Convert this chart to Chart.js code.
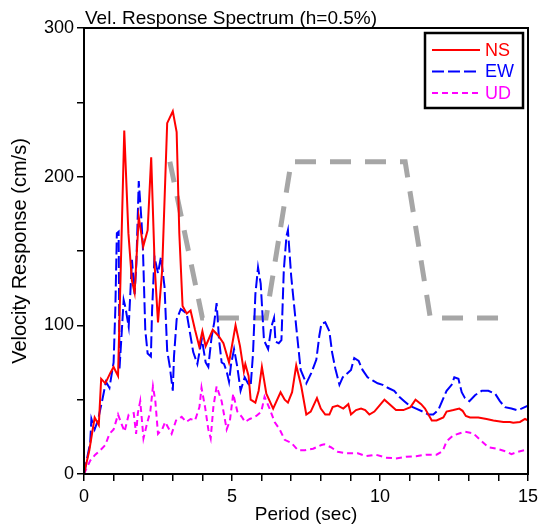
<!DOCTYPE html>
<html>
<head>
<meta charset="utf-8">
<script src="https://cdn.jsdelivr.net/npm/chart.js@4.4.1/dist/chart.umd.min.js"></script>
<style>
  html, body { margin: 0; padding: 0; background: #fff; }
  canvas { display: block; }
</style>
</head>
<body>
<canvas id="chart" width="539" height="526"></canvas>
<script>
// Vel. response spectrum, h=0.5%
const nsPeriod = [0, 0.18, 0.36, 0.5, 0.58, 0.72, 0.89, 1.0, 1.15, 1.36, 1.5, 1.62, 1.71, 1.85, 2.0, 2.15, 2.27, 2.39, 2.5, 2.64, 2.81, 3.0, 3.13, 3.22, 3.33, 3.47, 3.6, 3.75, 3.89, 4.0, 4.11, 4.35, 4.54, 4.71, 4.9, 5.12, 5.27, 5.4, 5.45, 5.56, 5.63, 5.79, 5.9, 6.01, 6.16, 6.39, 6.64, 6.78, 6.89, 7.03, 7.17, 7.34, 7.51, 7.66, 7.87, 8.0, 8.15, 8.29, 8.4, 8.57, 8.76, 8.93, 9.02, 9.19, 9.36, 9.5, 9.64, 9.81, 9.98, 10.15, 10.37, 10.54, 10.79, 11.03, 11.2, 11.39, 11.52, 11.75, 11.91, 12.14, 12.25, 12.48, 12.68, 12.79, 12.9, 13.04, 13.32, 13.6, 13.83, 14.17, 14.39, 14.5, 14.73, 14.9, 15];
const nsVel = [0, 16, 38, 33, 64, 61, 68, 72, 66, 231, 162, 130, 122, 173, 153, 164, 213, 139, 102, 137, 236, 244, 230, 162, 113, 108, 110, 97, 86, 96, 86, 97, 93, 88, 75, 100, 86, 69, 74, 66, 50, 48, 56, 72, 54, 44, 55, 50, 48, 55, 73, 59, 40, 42, 51, 44, 40, 40, 45, 46, 44, 47, 40, 43, 44, 43, 40, 42, 46, 50, 46, 43, 43, 45, 50, 47, 44, 36, 36, 38, 42, 43, 44, 42.5, 39, 38, 38, 37, 36, 35, 35, 34.5, 35, 37, 36];

const ewPeriod = [0, 0.21, 0.25, 0.36, 0.47, 0.61, 0.74, 0.86, 1.0, 1.06, 1.11, 1.17, 1.2, 1.28, 1.34, 1.4, 1.51, 1.62, 1.71, 1.77, 1.85, 1.94, 1.99, 2.07, 2.15, 2.26, 2.3, 2.38, 2.5, 2.6, 2.72, 2.81, 2.9, 3.0, 3.04, 3.13, 3.27, 3.47, 3.69, 3.83, 3.98, 4.11, 4.2, 4.31, 4.4, 4.48, 4.56, 4.65, 4.73, 4.82, 4.9, 4.97, 5.07, 5.18, 5.29, 5.43, 5.54, 5.63, 5.71, 5.79, 5.88, 5.97, 6.08, 6.22, 6.33, 6.42, 6.47, 6.58, 6.67, 6.75, 6.84, 6.89, 7.0, 7.17, 7.32, 7.51, 7.68, 7.85, 7.95, 8.02, 8.15, 8.29, 8.38, 8.49, 8.63, 8.74, 8.91, 9.02, 9.13, 9.28, 9.41, 9.58, 9.75, 9.92, 10.09, 10.26, 10.48, 10.65, 10.82, 10.99, 11.22, 11.44, 11.63, 11.8, 11.97, 12.12, 12.25, 12.42, 12.51, 12.65, 12.76, 12.87, 13.02, 13.21, 13.44, 13.66, 13.89, 14.05, 14.22, 14.44, 14.61, 14.78, 15];
const ewVel = [0, 21, 37, 30, 36, 49, 62, 58, 75, 112, 162, 163, 71, 97, 117, 112, 99, 144, 121, 142, 197, 171, 152, 97, 81, 79, 110, 146, 135, 146, 126, 83, 72, 56, 79, 104, 111, 108, 82, 74, 91, 75, 72, 92, 102, 115, 91, 75, 74, 69, 62, 74, 84, 72, 56, 65, 61, 59, 81, 121, 139, 128, 90, 84, 99, 105, 89, 88, 90, 137, 160, 164, 133, 99, 70, 61, 68, 77, 93, 101, 102, 96, 82, 71, 60, 65, 68, 70, 78, 76, 70, 65, 63, 61, 60, 58, 56, 52, 49, 46, 44, 42, 40, 40, 43, 50, 56, 60, 65, 64, 55, 51, 49, 53, 56, 56, 54, 49, 45, 44, 43, 44, 46];

const udPeriod = [0, 0.21, 0.38, 0.55, 0.72, 0.86, 1.0, 1.15, 1.26, 1.37, 1.51, 1.68, 1.76, 1.82, 1.9, 2.01, 2.13, 2.24, 2.33, 2.41, 2.5, 2.64, 2.74, 2.96, 3.11, 3.3, 3.45, 3.6, 3.75, 3.9, 3.97, 4.09, 4.2, 4.28, 4.37, 4.48, 4.65, 4.82, 4.93, 5.04, 5.18, 5.33, 5.44, 5.6, 5.82, 5.99, 6.1, 6.27, 6.44, 6.61, 6.78, 7.0, 7.23, 7.46, 7.74, 8.02, 8.12, 8.34, 8.57, 8.85, 9.25, 9.53, 9.86, 10.2, 10.54, 10.88, 11.22, 11.55, 11.91, 12.12, 12.25, 12.48, 12.7, 12.87, 13.15, 13.38, 13.66, 13.94, 14.28, 14.44, 14.67, 15];
const udVel = [0, 9, 13, 16, 19.5, 27, 30, 40, 34, 28.5, 40, 41, 27, 41, 49, 24, 34, 42, 59, 49, 27, 30, 35, 27, 36, 38.5, 35, 37, 36, 45, 58, 45, 30, 24, 45, 59, 49, 30, 36, 54, 42, 38.5, 35, 37, 39, 42, 52, 44, 35, 30, 23, 21, 16, 16, 17, 19.5, 20, 18, 15, 14, 14, 12, 13, 11, 10.5, 11.6, 12, 13, 13, 15.5, 22, 26, 27.4, 28.4, 27.4, 23, 18, 17, 15, 13.4, 15, 16.6];

// design spectrum envelope (grey dashed)
const levelPeriod = [2.9, 4.0, 6.15, 7.0, 10.85, 11.7, 14.1];
const levelVel = [210, 105, 105, 210, 210, 105, 105];

const xTicks = [0, 5, 10, 15];
const yTicks = [0, 100, 200, 300];

const FONT = '"Liberation Sans", Arial, sans-serif';

function pts(xs, ys) {
    return xs.map((x, i) => ({ x: x, y: ys[i] }));
}

const series = [
    { label: 'NS', data: pts(nsPeriod, nsVel), borderColor: '#ff0000', borderWidth: 2, borderDash: [] },
    { label: 'EW', data: pts(ewPeriod, ewVel), borderColor: '#0000ff', borderWidth: 2, borderDash: [12, 4] },
    { label: 'UD', data: pts(udPeriod, udVel), borderColor: '#ff00ff', borderWidth: 2, borderDash: [6, 4] },
    { label: '', data: pts(levelPeriod, levelVel), borderColor: '#a6a6a6', borderWidth: 5, borderDash: [21, 14] }
];

// frame, title and boxed legend
const framePlugin = {
    id: 'frame',
    afterDatasetsDraw(chart) {
        const c = chart.ctx, a = chart.chartArea;
        c.save();
        c.strokeStyle = '#000';
        c.lineWidth = 2;
        c.strokeRect(a.left, a.top, a.right - a.left, a.bottom - a.top);

        c.fillStyle = '#000';
        c.font = '19px ' + FONT;
        c.textBaseline = 'alphabetic';
        c.textAlign = 'left';
        c.fillText('Vel. Response Spectrum (h=0.5%)', a.left + 1, a.top - 4);

        // legend
        const bx = a.right - 103, by = a.top + 5, bw = 98, bh = 75;
        c.fillStyle = '#fff';
        c.fillRect(bx, by, bw, bh);
        c.lineWidth = 2.5;
        c.strokeStyle = '#000';
        c.strokeRect(bx, by, bw, bh);
        c.font = '18px ' + FONT;
        c.textBaseline = 'middle';
        series.slice(0, 3).forEach((s, i) => {
            const y = by + 17 + i * 21.5;
            c.beginPath();
            c.setLineDash(s.borderDash);
            c.strokeStyle = s.borderColor;
            c.lineWidth = 2;
            c.moveTo(bx + 7, y);
            c.lineTo(bx + 55, y);
            c.stroke();
            c.setLineDash([]);
            c.fillStyle = s.borderColor;
            c.fillText(s.label, bx + 60, y + 1);
        });
        c.restore();
    }
};

new Chart(document.getElementById('chart'), {
    type: 'line',
    data: {
        datasets: series.map(s => ({
            label: s.label,
            data: s.data,
            borderColor: s.borderColor,
            borderWidth: s.borderWidth,
            borderDash: s.borderDash,
            pointRadius: 0,
            tension: 0,
            fill: false
        }))
    },
    options: {
        responsive: false,
        animation: false,
        layout: { padding: { top: 28, right: 11, left: 0, bottom: 0 } },
        plugins: { legend: { display: false }, tooltip: { enabled: false } },
        scales: {
            x: {
                type: 'linear', min: 0, max: 15,
                afterFit: s => { s.height = 52; s.paddingLeft = 0; s.paddingRight = 0; },
                ticks: {
                    stepSize: 1, autoSkip: false, maxRotation: 0, padding: 5,
                    color: '#000', font: { family: FONT, size: 18 },
                    callback: v => xTicks.includes(v) ? String(v) : ''
                },
                grid: { drawOnChartArea: false, drawTicks: true, tickLength: 7, color: '#000', lineWidth: 1.5 },
                border: { display: false },
                title: { display: true, text: 'Period (sec)', color: '#000', font: { family: FONT, size: 19 }, padding: { top: 0, bottom: 0 } }
            },
            y: {
                min: 0, max: 300,
                afterFit: s => { s.width = 84; s.paddingTop = 0; s.paddingBottom = 0; },
                ticks: {
                    stepSize: 50, autoSkip: false, padding: 3,
                    color: '#000', font: { family: FONT, size: 18 },
                    callback: v => yTicks.includes(v) ? String(v) : ''
                },
                grid: { drawOnChartArea: false, drawTicks: true, tickLength: 7, color: '#000', lineWidth: 1.5 },
                border: { display: false },
                title: { display: true, text: 'Velocity Response (cm/s)', color: '#000', font: { family: FONT, size: 20 }, padding: { top: 8, bottom: 0 } }
            }
        }
    },
    plugins: [framePlugin]
});
</script>
</body>
</html>
